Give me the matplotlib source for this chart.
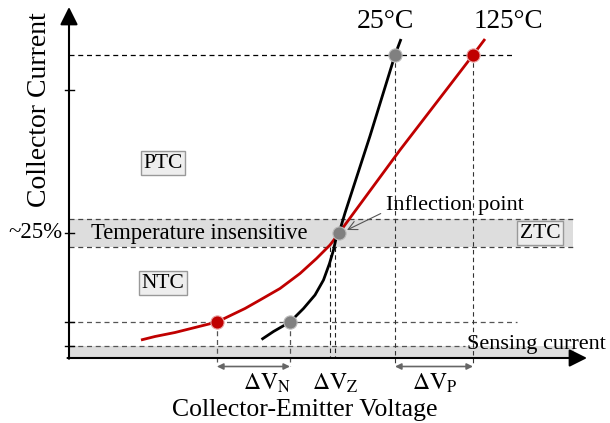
import matplotlib.pyplot as plt

plt.rcParams['font.family'] = ['Liberation Serif', 'DejaVu Serif']
plt.rcParams['mathtext.fontset'] = 'stix'

# Output characteristic curves (voltage in arbitrary units, current in % of rated)
v_25 = [3.85, 4.09, 4.42, 4.69, 4.92, 5.09, 5.21, 5.29, 5.35, 5.40, 5.52,
        6.02, 6.52, 6.64]
i_25 = [3.7, 5.3, 7.2, 9.9, 12.6, 15.6, 18.9, 21.6, 24.3, 25.0, 29.0,
        44.4, 60.6, 63.8]
v_125 = [1.44, 1.72, 2.12, 2.52, 2.96, 3.25, 3.52, 3.82, 4.22, 4.62, 4.95,
         5.22, 5.35, 5.40, 5.62, 6.62, 7.62, 8.08, 8.32]
i_125 = [3.6, 4.3, 5.1, 6.1, 7.2, 8.6, 9.9, 11.6, 13.9, 16.9, 19.9,
         22.6, 24.3, 25.0, 28.0, 41.6, 54.6, 60.6, 63.8]

i_sense = 2.4
i_low = 7.2
i_ztc = 25.0
ztc_band = (22.1, 27.7)
i_high = 60.6
v_low = (2.96, 4.42)      # 125C, 25C
v_ztc = (5.22, 5.32)
v_high = (6.52, 8.08)     # 25C, 125C
v_inflect = 5.40
y_ticks = [i_sense, i_low, i_ztc, 53.6]

red = '#c00000'
grey = '#808080'

fig = plt.figure(figsize=(6.10, 4.23), dpi=100)
ax = fig.add_axes([0, 0, 1, 1])
ax.set_xlim(-1.38, 10.82)
ax.set_ylim(-13.0, 71.6)
ax.axis('off')

# shaded bands
ax.fill_between([0, 10.08], ztc_band[0], ztc_band[1], color='#dddddd', lw=0, zorder=0)
ax.fill_between([0, 10.1], 0, i_sense, color='#dddddd', lw=0, zorder=0)

# horizontal guides
dash = dict(ls=(0, (4, 3)), lw=0.9, zorder=1)
ax.plot([0, 8.88], [i_high, i_high], color='k', **dash)
ax.plot([0, 10.08], [ztc_band[0]] * 2, color='#444444', **dash)
ax.plot([0, 10.08], [ztc_band[1]] * 2, color='#444444', **dash)
ax.plot([0, 8.96], [i_low, i_low], color='#555555', **dash)
ax.plot([0, 7.92], [i_sense, i_sense], color='#555555', **dash)

# vertical guides
for v in v_low:
    ax.plot([v, v], [i_low, -1.6], color='#555555', **dash)
for v in v_high:
    ax.plot([v, v], [i_high, -1.6], color='#333333', ls=(0, (4, 3)), lw=0.8, zorder=1)
for v in v_ztc:
    ax.plot([v, v], [ztc_band[0], 0], color='#222222', ls=(0, (4, 3)), lw=0.8, zorder=1)

# axes with arrow heads
ax.annotate('', xy=(0, 70.2), xytext=(0, -0.15),
            arrowprops=dict(arrowstyle='-|>', mutation_scale=27, lw=1.5, color='k',
                            shrinkA=0, shrinkB=0))
ax.annotate('', xy=(10.36, 0), xytext=(-0.03, 0),
            arrowprops=dict(arrowstyle='-|>', mutation_scale=27, lw=1.5, color='k',
                            shrinkA=0, shrinkB=0))
for t in y_ticks:
    ax.plot([-0.09, 0.09], [t, t], color='k', lw=1.0, zorder=3)

# curves
ax.plot(v_125, i_125, color=red, lw=2.0, zorder=4, solid_capstyle='butt',
        solid_joinstyle='round')
ax.plot(v_25, i_25, color='k', lw=2.0, zorder=4, solid_capstyle='butt',
        solid_joinstyle='round')

# operating points
dot = dict(marker='o', ms=9.5, ls='none', zorder=5, mew=0.8)
ax.plot([v_low[0], v_high[1]], [i_low, i_high], color=red, mec='#e8a0a0', **dot)
ax.plot([v_low[1], v_high[0], v_inflect], [i_low, i_high, i_ztc], color=grey,
        mec='#bbbbbb', **dot)

# voltage spreads
spread = dict(arrowstyle='<|-|>', mutation_scale=9, lw=1.2, color='#666666',
              shrinkA=0, shrinkB=0)
ax.annotate('', xy=(v_low[1], -1.7), xytext=(v_low[0], -1.7), arrowprops=spread)
ax.annotate('', xy=(v_high[1], -1.7), xytext=(v_high[0], -1.7), arrowprops=spread)
ax.text(3.96, -5.0, r'$\Delta\mathrm{V}_\mathrm{N}$', fontsize=17, ha='center', va='center')
ax.text(5.32, -5.0, r'$\Delta\mathrm{V}_\mathrm{Z}$', fontsize=17, ha='center', va='center')
ax.text(7.32, -5.0, r'$\Delta\mathrm{V}_\mathrm{P}$', fontsize=17, ha='center', va='center')

# labels
ax.text(4.72, -10.3, 'Collector-Emitter Voltage', fontsize=18.5, ha='center', va='center')
ax.text(-0.58, 49.6, 'Collector Current', fontsize=20, ha='center', va='center',
        rotation=90)
ax.text(-0.13, i_ztc, '~25%', fontsize=16.5, ha='right', va='center')
ax.text(6.32, 67.3, '25°C', fontsize=20, ha='center', va='center')
ax.text(8.78, 67.3, '125°C', fontsize=19.5, ha='center', va='center')
ax.text(2.6, i_ztc, 'Temperature insensitive', fontsize=16.3, ha='center', va='center', zorder=3)
ax.text(7.96, 2.7, 'Sensing current', fontsize=16, ha='left', va='center', zorder=3)

box = dict(boxstyle='square,pad=0.12', fc='#eeeeee', ec='#999999', lw=1.0)
ax.text(1.88, 39.0, 'PTC', fontsize=15.5, ha='center', va='center', bbox=box)
ax.text(1.88, 15.0, 'NTC', fontsize=15.5, ha='center', va='center', bbox=box)
ax.text(9.42, i_ztc, 'ZTC', fontsize=15.5, ha='center', va='center', bbox=box)

ax.annotate('Inflection point', xy=(v_inflect + 0.16, i_ztc + 0.6), xytext=(6.34, 30.6),
            fontsize=16, ha='left', va='center',
            arrowprops=dict(arrowstyle='->', lw=0.8, color='#555555', shrinkA=2, shrinkB=0,
                            relpos=(0, 0.2)))

fig.savefig('out.png', dpi=100)
